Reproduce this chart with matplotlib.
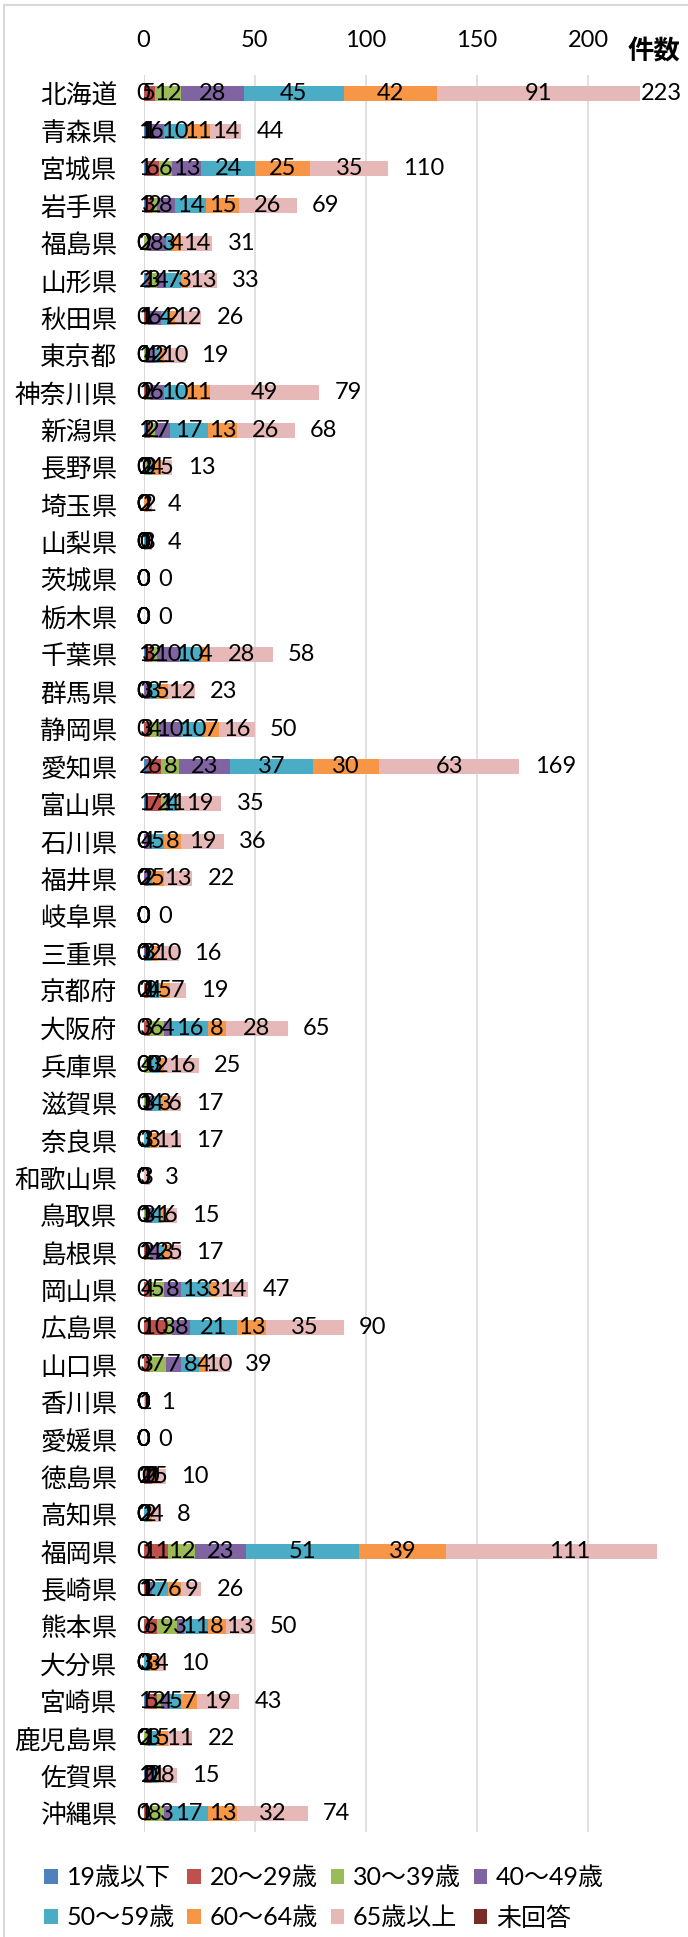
import matplotlib
matplotlib.use("Agg")
import matplotlib.pyplot as plt
from matplotlib.patches import Patch
from matplotlib.lines import Line2D
import numpy as np

plt.rcParams["font.family"] = ["Noto Sans CJK JP", "DejaVu Sans"]
NUM_FONT = ["Lato", "Noto Sans CJK JP"]

PREFS = ["北海道", "青森県", "宮城県", "岩手県", "福島県", "山形県", "秋田県", "東京都",
         "神奈川県", "新潟県", "長野県", "埼玉県", "山梨県", "茨城県", "栃木県", "千葉県",
         "群馬県", "静岡県", "愛知県", "富山県", "石川県", "福井県", "岐阜県", "三重県",
         "京都府", "大阪府", "兵庫県", "滋賀県", "奈良県", "和歌山県", "鳥取県", "島根県",
         "岡山県", "広島県", "山口県", "香川県", "愛媛県", "徳島県", "高知県", "福岡県",
         "長崎県", "熊本県", "大分県", "宮崎県", "鹿児島県", "佐賀県", "沖縄県"]

AGE_LABELS = ["19歳以下", "20〜29歳", "30〜39歳", "40〜49歳",
              "50〜59歳", "60〜64歳", "65歳以上", "未回答"]
AGE_COLORS = ["#4F81BD", "#C0504D", "#9BBB59", "#8064A2",
              "#4BACC6", "#F79646", "#E6B9B8", "#772C2A"]

# counts per prefecture, one list per age group (same order as PREFS)
age_19 = [0, 1, 1, 1, 0, 2, 0, 0, 0, 1, 0, 0, 0, 0, 0, 1, 0, 0, 2, 1, 0, 0, 0, 0,
          0, 0, 0, 0, 0, 0, 0, 0, 0, 0, 0, 0, 0, 0, 0, 0, 0, 0, 0, 1, 0, 1, 0]
age_20 = [5, 1, 6, 3, 0, 1, 1, 0, 1, 2, 0, 0, 0, 0, 0, 3, 0, 3, 6, 7, 0, 0, 0, 0,
          2, 3, 0, 0, 0, 0, 0, 1, 4, 10, 3, 0, 0, 2, 0, 11, 1, 6, 0, 5, 0, 2, 1]
age_30 = [12, 1, 6, 2, 2, 3, 1, 1, 2, 2, 2, 0, 0, 0, 0, 2, 0, 4, 8, 2, 0, 0, 0, 0,
          1, 6, 4, 1, 0, 0, 1, 2, 5, 3, 7, 0, 0, 0, 0, 12, 1, 9, 0, 2, 2, 0, 8]
age_40 = [28, 6, 13, 8, 8, 4, 6, 4, 6, 7, 0, 0, 0, 0, 0, 10, 3, 10, 23, 1, 4, 2, 0, 1,
          0, 4, 0, 3, 0, 0, 3, 4, 8, 8, 7, 0, 0, 2, 0, 23, 2, 3, 0, 4, 1, 1, 3]
age_50 = [45, 10, 24, 14, 3, 7, 4, 2, 10, 17, 2, 0, 1, 0, 0, 10, 3, 10, 37, 4, 5, 2, 0, 3,
          4, 16, 3, 4, 3, 0, 4, 2, 13, 21, 8, 0, 0, 0, 2, 51, 7, 11, 3, 5, 3, 2, 17]
age_60 = [42, 11, 25, 15, 4, 3, 2, 2, 11, 13, 4, 2, 0, 0, 0, 4, 5, 7, 30, 1, 8, 5, 0, 2,
          5, 8, 2, 3, 3, 0, 1, 3, 3, 13, 4, 0, 0, 1, 2, 39, 6, 8, 3, 7, 5, 1, 13]
age_65 = [91, 14, 35, 26, 14, 13, 12, 10, 49, 26, 5, 2, 3, 0, 0, 28, 12, 16, 63, 19, 19, 13, 0, 10,
          7, 28, 16, 6, 11, 3, 6, 5, 14, 35, 10, 1, 0, 5, 4, 111, 9, 13, 4, 19, 11, 8, 32]
no_answer = [0] * len(PREFS)

SERIES = [age_19, age_20, age_30, age_40, age_50, age_60, age_65, no_answer]
XMAX = 231

fig = plt.figure(figsize=(6.88, 19.37), dpi=100)
ax = fig.add_axes([143.5 / 688, 105 / 1937, 513.8 / 688, 1757 / 1937])

y = np.arange(len(PREFS))
left = np.zeros(len(PREFS))
for k, (vals, color) in enumerate(zip(SERIES, AGE_COLORS)):
    vals = np.array(vals, dtype=float)
    ax.barh(y, vals, left=left, height=0.4, color=color, zorder=2)
    if k < 7:
        for i, v in enumerate(vals):
            ax.text(left[i] + v / 2, y[i], f"{int(v)}", ha="center", va="center",
                    fontsize=17, family=NUM_FONT, color="black", zorder=3)
    left += vals

# totals after each bar
for i, t in enumerate(left):
    if t > XMAX:
        continue
    ax.text(min(t + 6.8, 223.7), y[i], f"{int(t)}", ha="left", va="center",
            fontsize=17, family=NUM_FONT, color="black", zorder=3, clip_on=False)

ax.set_xlim(0, XMAX)
ax.set_ylim(len(PREFS) - 0.5, -0.5)
ax.set_xticks([0, 50, 100, 150, 200])
ax.xaxis.set_ticks_position("top")
ax.tick_params(axis="x", length=0, pad=17)
for lab in ax.get_xticklabels():
    lab.set_fontfamily(NUM_FONT)
    lab.set_fontsize(17)
ax.set_yticks(y)
ax.set_yticklabels(PREFS, fontsize=18.5)
ax.tick_params(axis="y", length=0, pad=18.7)
ax.grid(axis="x", color="#D9D9D9", linewidth=1.1, zorder=0)
ax.set_axisbelow(True)
ax.axvline(0, color="#D9D9D9", linewidth=1.1, zorder=1)
for s in ax.spines.values():
    s.set_visible(False)

fig.text(654 / 688, 1 - 51.5 / 1937, "件数", ha="center", va="center",
         fontsize=19, fontweight="bold")

# legend, row-major order for 4 columns
order = [0, 4, 1, 5, 2, 6, 3, 7]
handles = [Patch(facecolor=AGE_COLORS[j]) for j in order]
labels = [AGE_LABELS[j] for j in order]
fig.legend(handles, labels, ncol=4, loc="upper left",
           bbox_to_anchor=(44 / 688, 1 - 1866 / 1937), frameon=False,
           prop={"family": NUM_FONT, "size": 18}, handlelength=0.55, handleheight=0.55,
           handletextpad=0.35, columnspacing=0.5, labelspacing=0.68, borderpad=0,
           borderaxespad=0)

# chart frame (left and top edges visible)
fig.add_artist(Line2D([4 / 688, 4 / 688], [0, 1 - 5 / 1937], color="#D9D9D9", linewidth=1.5))
fig.add_artist(Line2D([4 / 688, 1], [1 - 5 / 1937, 1 - 5 / 1937], color="#D9D9D9", linewidth=1.5))

fig.savefig("out.png", dpi=100)
